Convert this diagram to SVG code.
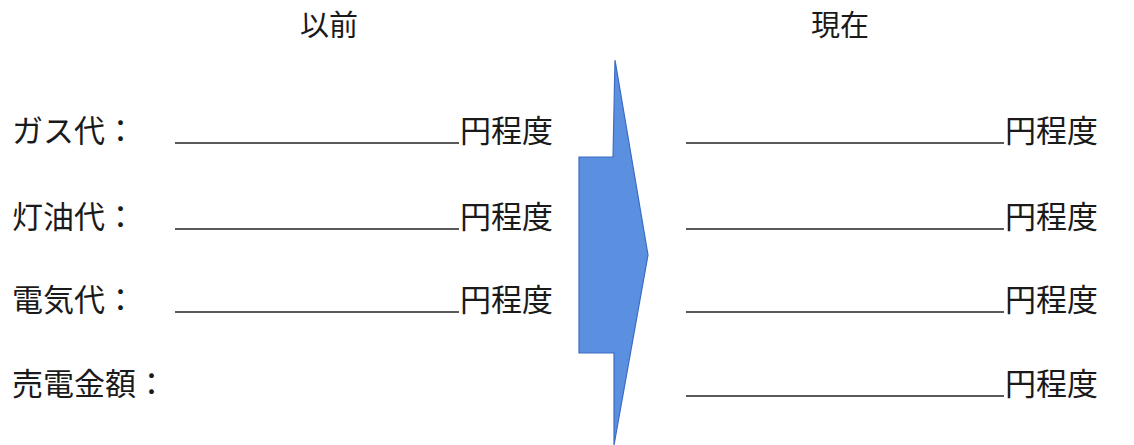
<svg xmlns="http://www.w3.org/2000/svg" width="1134" height="445" viewBox="0 0 1134 445">
<style>
text{font-family:"Liberation Serif","Noto Sans CJK JP",serif;font-size:31px;fill:#1a1a1a}
.h{font-size:29px}
.u{stroke:#222;stroke-width:1.6}
</style>
<rect width="1134" height="445" fill="#fff"/>
<g id="headers">
<text class="h" x="300" y="36">以前</text>
<text class="h" x="811" y="36">現在</text>
</g>
<g id="labels">
<text x="12" y="142">ガス代：</text>
<text x="12" y="228">灯油代：</text>
<text x="12" y="311">電気代：</text>
<text x="12" y="395">売電金額：</text>
</g>
<g id="before">
<line class="u" x1="175" y1="143" x2="459" y2="143"/><text x="460" y="142">円程度</text>
<line class="u" x1="175" y1="229" x2="459" y2="229"/><text x="460" y="228">円程度</text>
<line class="u" x1="175" y1="312" x2="459" y2="312"/><text x="460" y="311">円程度</text>
</g>
<g id="arrow">
<polygon points="615,60 648,255 614,445 614,353 579,353 579,157 613,157" fill="#5b8fe0" stroke="#3b6cc4" stroke-width="1.2"/>
</g>
<g id="after">
<line class="u" x1="686" y1="143" x2="1004" y2="143"/><text x="1005" y="142">円程度</text>
<line class="u" x1="686" y1="229" x2="1004" y2="229"/><text x="1005" y="228">円程度</text>
<line class="u" x1="686" y1="312" x2="1004" y2="312"/><text x="1005" y="311">円程度</text>
<line class="u" x1="686" y1="396" x2="1004" y2="396"/><text x="1005" y="395">円程度</text>
</g>
</svg>
